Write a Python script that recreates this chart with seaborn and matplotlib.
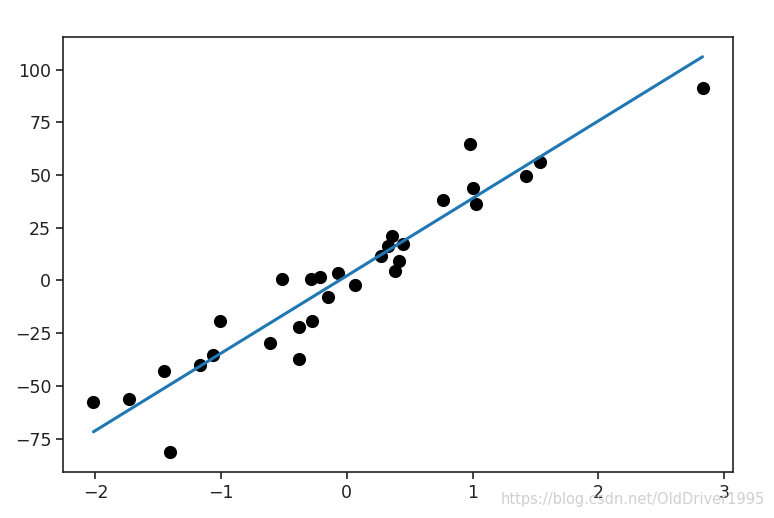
import numpy as np
import pandas as pd
import matplotlib
matplotlib.use('Agg')
import matplotlib.pyplot as plt
import seaborn as sns

# sample points
x_vals = [-2.016, -1.730, -1.458, -1.410, -1.170, -1.062, -1.008, -0.610,
          -0.514, -0.384, -0.384, -0.288, -0.274, -0.210, -0.146, -0.070,
          0.062, 0.272, 0.326, 0.360, 0.448, 0.416, 0.380, 0.766,
          0.976, 1.006, 1.024, 1.422, 1.536, 2.830]
y_vals = [-57.7, -56.1, -42.8, -81.5, -40.0, -35.2, -19.3, -29.6,
          0.5, -37.1, -22.0, 0.5, -19.2, 1.6, -7.9, 3.6,
          -2.0, 11.8, 16.5, 21.2, 17.5, 9.2, 4.5, 38.3,
          64.8, 44.0, 36.3, 49.7, 56.3, 91.2]

# fitted line, ends
fit_x = [-2.016, 2.830]
fit_y = [-71.8, 106.1]

x_ticks = [-2, -1, 0, 1, 2, 3]
y_ticks = [-75, -50, -25, 0, 25, 50, 75, 100]

df = pd.DataFrame({'x': x_vals, 'y': y_vals})
df_fit = pd.DataFrame({'x': fit_x, 'y': fit_y})

sns.set_style('ticks')
plt.rcParams['font.family'] = ['DejaVu Sans']

fig = plt.figure(figsize=(7.74, 5.18), dpi=100)
ax = fig.add_axes([63 / 774, 1 - 472 / 518, 670 / 774, 435 / 518])

sns.scatterplot(data=df, x='x', y='y', color='black', s=90, linewidth=0, ax=ax)
sns.lineplot(data=df_fit, x='x', y='y', color='#1f77b4', linewidth=2.2, ax=ax)

ax.set_xticks(x_ticks)
ax.set_yticks(y_ticks)
ax.set_xlabel('')
ax.set_ylabel('')
ax.tick_params(labelsize=12.5, length=5, width=1.2, colors='#222222')
for sp in ax.spines.values():
    sp.set_linewidth(1.2)
    sp.set_color('#222222')

# csdn watermark
fig.text(0.988, 0.022, 'https://blog.csdn.net/OldDriver1995', ha='right', va='bottom',
         fontsize=10.5, color='#d0d0d0')

fig.savefig('out.png', dpi=100)
